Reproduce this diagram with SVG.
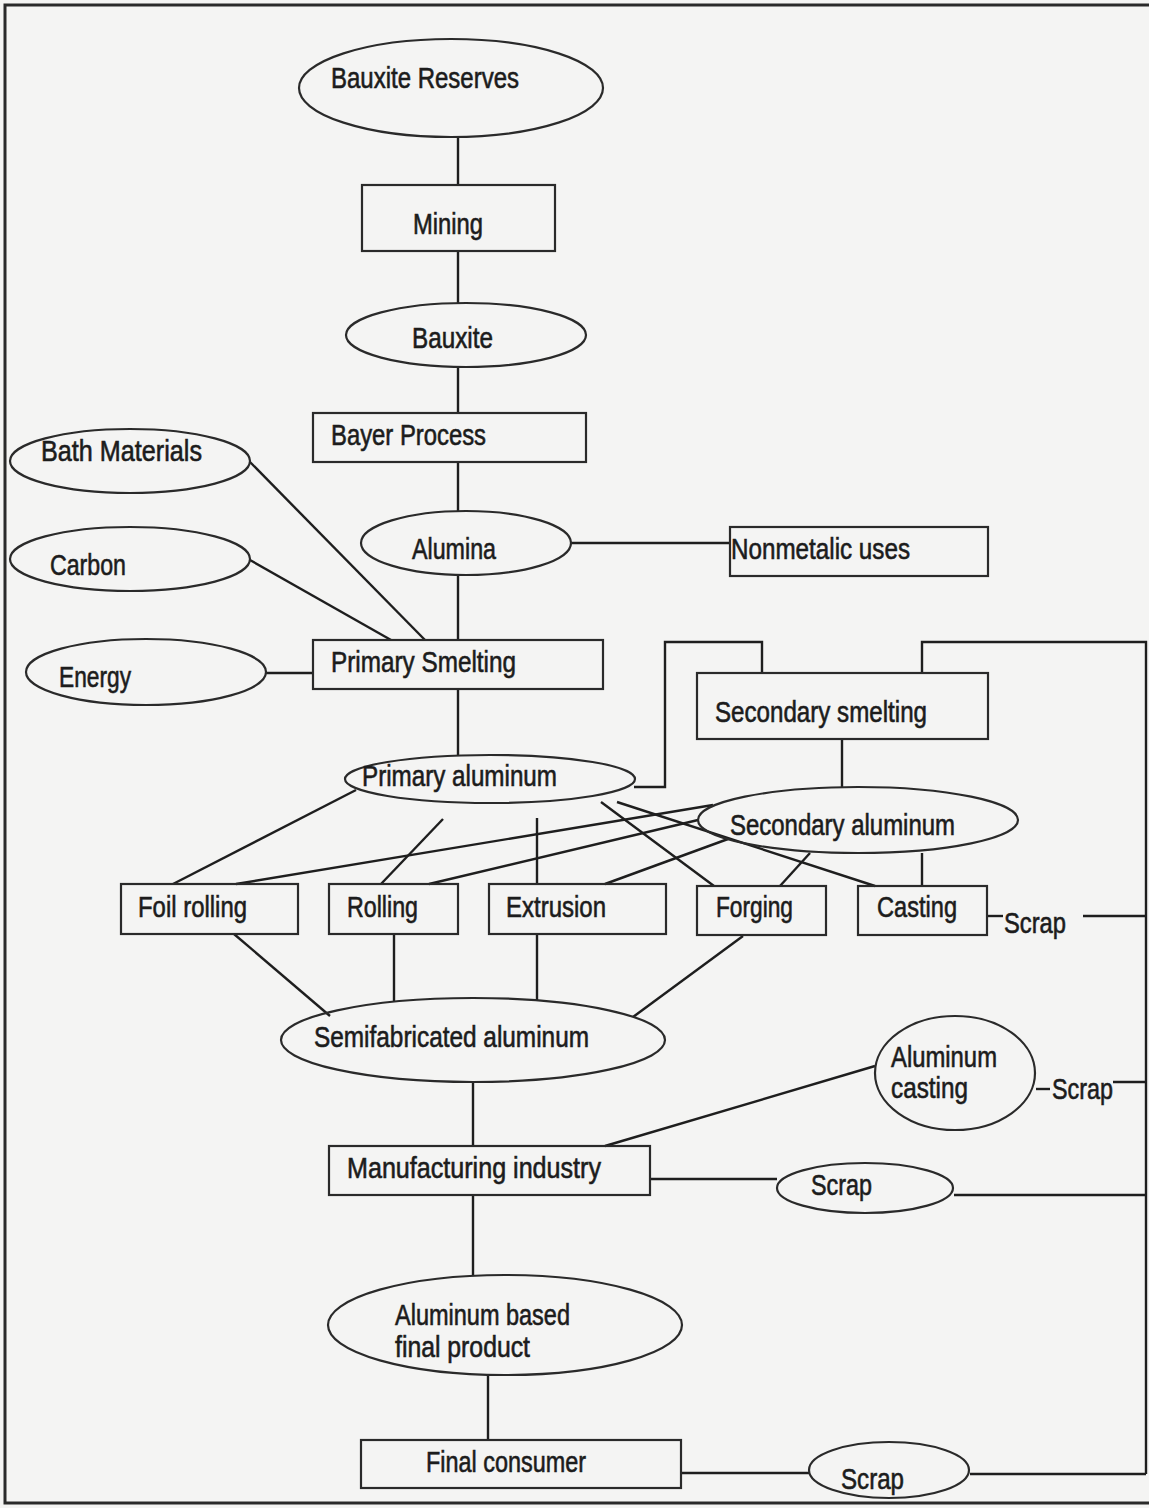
<svg xmlns="http://www.w3.org/2000/svg" width="1149" height="1508" viewBox="0 0 1149 1508">
<style>
.bg{fill:#f4f4f3}
.frame{fill:none;stroke:#2a2a2a;stroke-width:3}
.n{fill:none;stroke:#2a2a2a;stroke-width:2.2}
.c{fill:none;stroke:#1e1e1e;stroke-width:2.4}
.t{font-family:"Liberation Sans Narrow","Liberation Sans","DejaVu Sans Condensed",sans-serif;font-stretch:condensed;font-size:29px;fill:#1c1c1c;stroke:#1c1c1c;stroke-width:0.6}
</style>
<rect class="bg" x="0" y="0" width="1149" height="1508"/>
<path class="frame" d="M1149 5 H5 V1503 H1149"/>

<g id="connectors">
<path class="c" d="M458 137 V185"/>
<path class="c" d="M458 251 V303"/>
<path class="c" d="M458 367 V413"/>
<path class="c" d="M458 462 V511"/>
<path class="c" d="M570 543 H730"/>
<path class="c" d="M458 575 V640"/>
<path class="c" d="M250 462 L425 640"/>
<path class="c" d="M250 560 L391 640"/>
<path class="c" d="M266 673 H313"/>
<path class="c" d="M458 689 V755"/>
<path class="c" d="M634 787 H665 V642 H762 V673"/>
<path class="c" d="M922 673 V642 H1146 V1474"/>
<path class="c" d="M842 739 V787"/>
<path class="c" d="M356 790 L173 884"/>
<path class="c" d="M443 819 L381 884"/>
<path class="c" d="M537 818 V884"/>
<path class="c" d="M601 802 L714 886"/>
<path class="c" d="M617 802 L875 886"/>
<path class="c" d="M713 805 L236 884"/>
<path class="c" d="M698 820 L429 884"/>
<path class="c" d="M728 839 L605 884"/>
<path class="c" d="M810 853 L780 886"/>
<path class="c" d="M922 853 V886"/>
<path class="c" d="M987 916 H1003"/>
<path class="c" d="M1083 916 H1146"/>
<path class="c" d="M234 934 L330 1016"/>
<path class="c" d="M394 934 V1001"/>
<path class="c" d="M537 934 V1001"/>
<path class="c" d="M743 936 L633 1017"/>
<path class="c" d="M473 1082 V1146"/>
<path class="c" d="M605 1146 L875 1066"/>
<path class="c" d="M1036 1089 H1050"/>
<path class="c" d="M1113 1082 H1146"/>
<path class="c" d="M650 1179 H777"/>
<path class="c" d="M954 1195 H1146"/>
<path class="c" d="M473 1195 V1276"/>
<path class="c" d="M488 1375 V1440"/>
<path class="c" d="M681 1473 H809"/>
<path class="c" d="M970 1474 H1146"/>
</g>

<g id="bauxite-reserves"><ellipse class="n" cx="451" cy="88" rx="152" ry="49"/><text class="t" x="331" y="88" textLength="188" lengthAdjust="spacingAndGlyphs">Bauxite Reserves</text></g>
<g id="mining"><rect class="n" x="362" y="185" width="193" height="66"/><text class="t" x="413" y="234" textLength="70" lengthAdjust="spacingAndGlyphs">Mining</text></g>
<g id="bauxite"><ellipse class="n" cx="466" cy="335" rx="120" ry="32"/><text class="t" x="412" y="348" textLength="81" lengthAdjust="spacingAndGlyphs">Bauxite</text></g>
<g id="bayer-process"><rect class="n" x="313" y="413" width="273" height="49"/><text class="t" x="331" y="445" textLength="155" lengthAdjust="spacingAndGlyphs">Bayer Process</text></g>
<g id="bath-materials"><ellipse class="n" cx="130" cy="461" rx="120" ry="32"/><text class="t" x="41" y="461" textLength="161" lengthAdjust="spacingAndGlyphs">Bath Materials</text></g>
<g id="alumina"><ellipse class="n" cx="466" cy="543" rx="105" ry="32"/><text class="t" x="412" y="559" textLength="84" lengthAdjust="spacingAndGlyphs">Alumina</text></g>
<g id="nonmetalic-uses"><rect class="n" x="730" y="527" width="258" height="49"/><text class="t" x="731" y="559" textLength="179" lengthAdjust="spacingAndGlyphs">Nonmetalic uses</text></g>
<g id="carbon"><ellipse class="n" cx="130" cy="559" rx="120" ry="32"/><text class="t" x="50" y="575" textLength="76" lengthAdjust="spacingAndGlyphs">Carbon</text></g>
<g id="energy"><ellipse class="n" cx="146" cy="672" rx="120" ry="33"/><text class="t" x="59" y="687" textLength="72" lengthAdjust="spacingAndGlyphs">Energy</text></g>
<g id="primary-smelting"><rect class="n" x="313" y="640" width="290" height="49"/><text class="t" x="331" y="672" textLength="185" lengthAdjust="spacingAndGlyphs">Primary Smelting</text></g>
<g id="secondary-smelting"><rect class="n" x="697" y="673" width="291" height="66"/><text class="t" x="715" y="722" textLength="212" lengthAdjust="spacingAndGlyphs">Secondary smelting</text></g>
<g id="primary-aluminum"><ellipse class="n" cx="490" cy="779" rx="145" ry="24"/><text class="t" x="362" y="786" textLength="195" lengthAdjust="spacingAndGlyphs">Primary aluminum</text></g>
<g id="secondary-aluminum"><ellipse class="n" cx="858" cy="820" rx="160" ry="33"/><text class="t" x="730" y="835" textLength="225" lengthAdjust="spacingAndGlyphs">Secondary aluminum</text></g>
<g id="foil-rolling"><rect class="n" x="121" y="884" width="177" height="50"/><text class="t" x="138" y="917" textLength="109" lengthAdjust="spacingAndGlyphs">Foil rolling</text></g>
<g id="rolling"><rect class="n" x="329" y="884" width="129" height="50"/><text class="t" x="347" y="917" textLength="71" lengthAdjust="spacingAndGlyphs">Rolling</text></g>
<g id="extrusion"><rect class="n" x="489" y="884" width="177" height="50"/><text class="t" x="506" y="917" textLength="100" lengthAdjust="spacingAndGlyphs">Extrusion</text></g>
<g id="forging"><rect class="n" x="697" y="886" width="129" height="49"/><text class="t" x="716" y="917" textLength="77" lengthAdjust="spacingAndGlyphs">Forging</text></g>
<g id="casting"><rect class="n" x="858" y="886" width="129" height="49"/><text class="t" x="877" y="917" textLength="80" lengthAdjust="spacingAndGlyphs">Casting</text></g>
<g id="scrap-casting"><text class="t" x="1004" y="933" textLength="62" lengthAdjust="spacingAndGlyphs">Scrap</text></g>
<g id="semifabricated-aluminum"><ellipse class="n" cx="473" cy="1040" rx="192" ry="42"/><text class="t" x="314" y="1047" textLength="275" lengthAdjust="spacingAndGlyphs">Semifabricated aluminum</text></g>
<g id="aluminum-casting"><ellipse class="n" cx="955" cy="1073" rx="80" ry="57"/><text class="t" x="891" y="1067" textLength="106" lengthAdjust="spacingAndGlyphs">Aluminum</text><text class="t" x="891" y="1098" textLength="77" lengthAdjust="spacingAndGlyphs">casting</text></g>
<g id="scrap-aluminum-casting"><text class="t" x="1052" y="1099" textLength="61" lengthAdjust="spacingAndGlyphs">Scrap</text></g>
<g id="manufacturing-industry"><rect class="n" x="329" y="1146" width="321" height="49"/><text class="t" x="347" y="1178" textLength="254" lengthAdjust="spacingAndGlyphs">Manufacturing industry</text></g>
<g id="scrap-manufacturing"><ellipse class="n" cx="865" cy="1188" rx="88" ry="25"/><text class="t" x="811" y="1195" textLength="61" lengthAdjust="spacingAndGlyphs">Scrap</text></g>
<g id="aluminum-based-final-product"><ellipse class="n" cx="505" cy="1325" rx="177" ry="50"/><text class="t" x="395" y="1325" textLength="175" lengthAdjust="spacingAndGlyphs">Aluminum based</text><text class="t" x="395" y="1357" textLength="135" lengthAdjust="spacingAndGlyphs">final product</text></g>
<g id="final-consumer"><rect class="n" x="361" y="1440" width="320" height="48"/><text class="t" x="426" y="1472" textLength="160" lengthAdjust="spacingAndGlyphs">Final consumer</text></g>
<g id="scrap-final"><ellipse class="n" cx="889" cy="1470" rx="80" ry="28"/><text class="t" x="841" y="1489" textLength="63" lengthAdjust="spacingAndGlyphs">Scrap</text></g>
</svg>
